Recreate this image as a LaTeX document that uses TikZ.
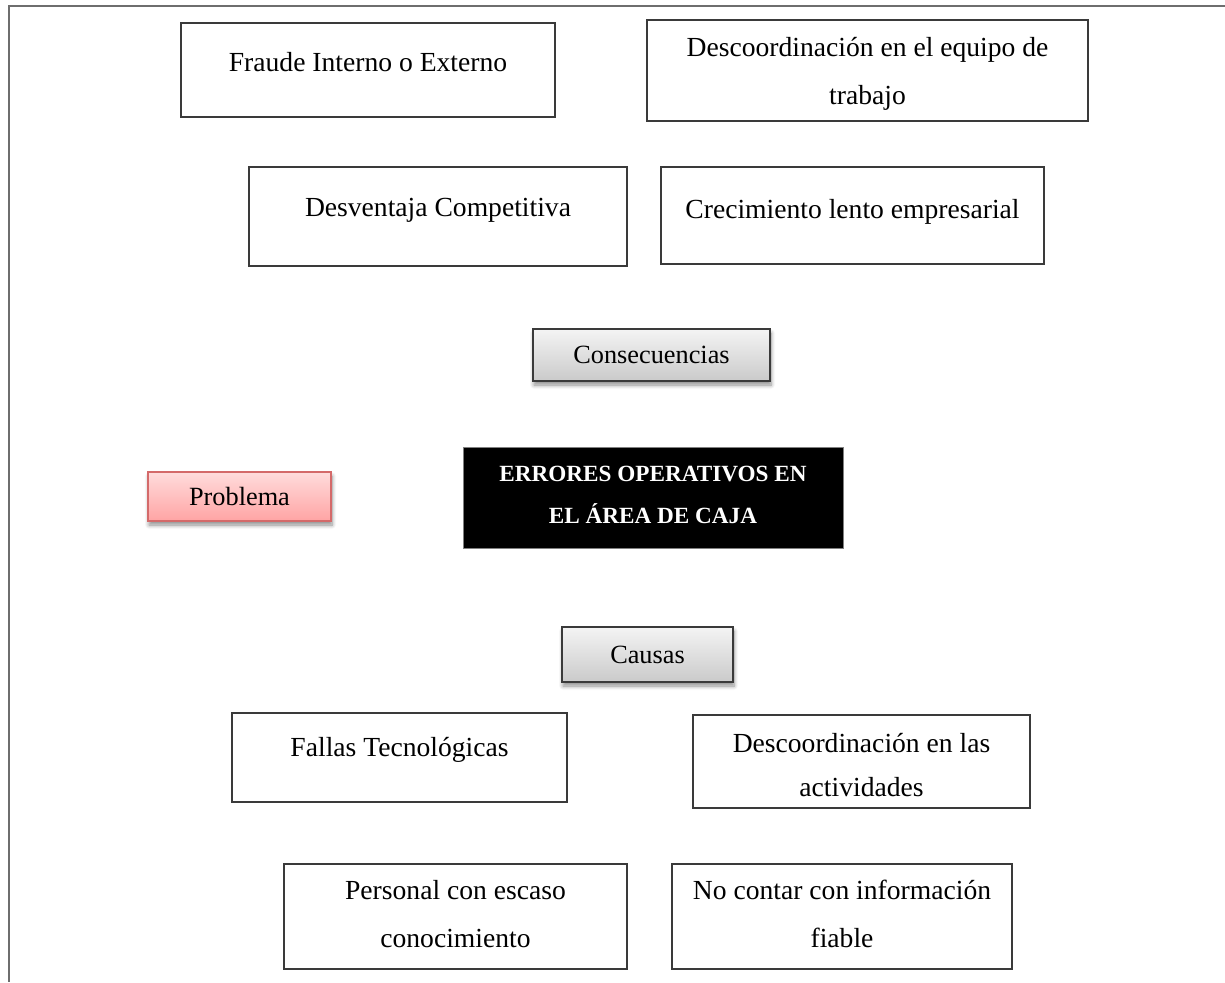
\documentclass[tikz,border=0pt]{standalone}
\usepackage{fontspec}
\setmainfont{Liberation Serif}
\usetikzlibrary{shadows.blur}
\definecolor{frameline}{HTML}{6E6E6E}
\definecolor{boxline}{HTML}{3A3A3A}
\definecolor{greytop}{HTML}{F4F4F4}
\definecolor{greybot}{HTML}{CACACA}
\definecolor{pinktop}{HTML}{FFDCDC}
\definecolor{pinkbot}{HTML}{FFA4A4}
\definecolor{pinkline}{HTML}{D46A6A}
\tikzset{
  plainbox/.style={draw=boxline, line width=1.6pt, fill=white, rectangle, inner sep=0pt},
  boxtext/.style={align=center, inner sep=0pt, font=\fontsize{27.6}{#1}\selectfont},
  boxtext/.default=47,
  headbox/.style={draw=boxline, line width=2pt, rectangle, inner sep=0pt,
    top color=greytop, bottom color=greybot,
    blur shadow={shadow blur steps=6, shadow xshift=1pt, shadow yshift=-4pt,
      shadow blur radius=4pt, shadow opacity=45},
    font=\fontsize{26.3}{30}\selectfont},
  probbox/.style={draw=pinkline, line width=1.8pt, rectangle, inner sep=0pt,
    top color=pinktop, bottom color=pinkbot,
    blur shadow={shadow blur steps=6, shadow xshift=1pt, shadow yshift=-4pt,
      shadow blur radius=4pt, shadow opacity=45},
    font=\fontsize{26.3}{30}\selectfont},
  keybox/.style={draw=gray, line width=1pt, fill=black, rectangle, inner sep=0pt},
  keytext/.style={align=center, inner sep=0pt, text=white,
    font=\fontsize{23.2}{42}\selectfont\bfseries},
}
\begin{document}
\begin{tikzpicture}[x=1pt, y=-1pt]
\useasboundingbox (0,0) rectangle (1225,982);
% page frame (top and left edges only)
\draw[frameline, line width=2.5pt] (1225,6) -- (9,6) -- (9,982);

% consequences
\node[plainbox, minimum width=374pt, minimum height=94pt] (fraude) at (368,70) {};
\node[boxtext] (fraudeT) at (368,62) {Fraude Interno o Externo};
\node[plainbox, minimum width=441pt, minimum height=101pt] (descEq) at (867.5,70.5) {};
\node[boxtext=48] (descEqT) at (867.5,73.5) {Descoordinación en el equipo de\\trabajo};
\node[plainbox, minimum width=378pt, minimum height=99pt] (desv) at (438,216.5) {};
\node[boxtext] (desvT) at (438,210) {Desventaja Competitiva};
\node[plainbox, minimum width=383pt, minimum height=97pt] (crec) at (852.5,215.5) {};
\node[boxtext] (crecT) at (852.5,212) {Crecimiento lento empresarial};

\node[headbox, minimum width=237pt, minimum height=52pt] (conse) at (651.5,355) {Consecuencias};

% problem
\node[probbox, minimum width=183pt, minimum height=49pt] (prob) at (239.5,496.5) {Problema};
\node[keybox, minimum width=380pt, minimum height=101pt] (err) at (653,497.5) {};
\node[keytext] (errT) at (653,495) {ERRORES OPERATIVOS EN\\EL ÁREA DE CAJA};

% causes
\node[headbox, minimum width=171pt, minimum height=55pt] (causas) at (647.5,654.5) {Causas};
\node[plainbox, minimum width=335pt, minimum height=89pt] (fallas) at (399.5,757.5) {};
\node[boxtext] (fallasT) at (399.5,750) {Fallas Tecnológicas};
\node[plainbox, minimum width=337pt, minimum height=93pt] (descAc) at (861.5,761.5) {};
\node[boxtext=44] (descAcT) at (861.5,765) {Descoordinación en las\\actividades};
\node[plainbox, minimum width=343pt, minimum height=105pt] (pers) at (455.5,916.5) {};
\node[boxtext=48] (persT) at (455.5,914) {Personal con escaso\\conocimiento};
\node[plainbox, minimum width=340pt, minimum height=105pt] (info) at (842,916.5) {};
\node[boxtext=48] (infoT) at (842,914) {No contar con información\\fiable};
\end{tikzpicture}
\end{document}
